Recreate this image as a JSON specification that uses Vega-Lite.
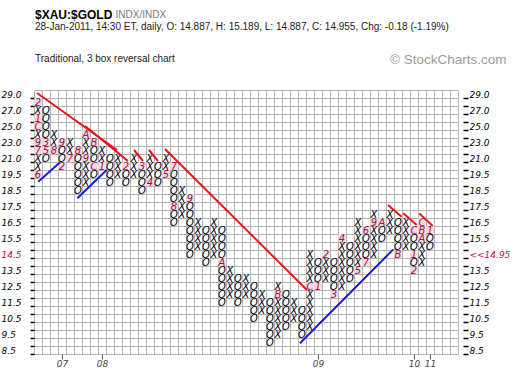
{
  "$schema": "https://vega.github.io/schema/vega-lite/v6.json",
  "width": 424,
  "height": 264,
  "autosize": {"type": "none"},
  "padding": {"left": 34, "top": 90, "right": 62, "bottom": 24},
  "background": "white",
  "config": {"view": {"stroke": null}},
  "title": {
    "text": "$XAU:$GOLD",
    "subtitle": ["28-Jan-2011, 14:30 ET, daily, O: 14.887, H: 15.189, L: 14.887, C: 14.955, Chg: -0.18 (-1.19%)", "Traditional, 3 box reversal chart"],
    "anchor": "start", "frame": "group",
    "font": "Liberation Sans", "fontSize": 12, "fontWeight": "bold", "color": "#000",
    "subtitleFont": "Liberation Sans", "subtitleFontSize": 10, "subtitleColor": "#222",
    "subtitleLineHeight": 32, "subtitlePadding": 0, "offset": -56, "dx": 1
  },
  "datasets": {
    "cells": [
      {"c":0,"p":19.5,"s":"6"},{"c":0,"p":20,"s":"X"},{"c":0,"p":21,"s":"X"},{"c":0,"p":22,"s":"7"},{"c":0,"p":23,"s":"9"},{"c":0,"p":24,"s":"X"},{"c":0,"p":25,"s":"C"},{"c":0,"p":26,"s":"1"},{"c":0,"p":27,"s":"X"},{"c":0,"p":28,"s":"2"},
      {"c":1,"p":21,"s":"O"},{"c":1,"p":22,"s":"5"},{"c":1,"p":23,"s":"3"},{"c":1,"p":24,"s":"O"},{"c":1,"p":25,"s":"O"},{"c":1,"p":26,"s":"O"},{"c":1,"p":27,"s":"O"},
      {"c":2,"p":22,"s":"8"},{"c":2,"p":23,"s":"X"},{"c":2,"p":24,"s":"X"},
      {"c":3,"p":20,"s":"2"},{"c":3,"p":21,"s":"O"},{"c":3,"p":22,"s":"O"},{"c":3,"p":23,"s":"9"},
      {"c":4,"p":21,"s":"7"},{"c":4,"p":22,"s":"X"},{"c":4,"p":23,"s":"X"},
      {"c":5,"p":18.5,"s":"O"},{"c":5,"p":19,"s":"O"},{"c":5,"p":19.5,"s":"O"},{"c":5,"p":20,"s":"O"},{"c":5,"p":21,"s":"O"},{"c":5,"p":22,"s":"8"},
      {"c":6,"p":19,"s":"X"},{"c":6,"p":19.5,"s":"X"},{"c":6,"p":20,"s":"X"},{"c":6,"p":21,"s":"9"},{"c":6,"p":22,"s":"X"},{"c":6,"p":23,"s":"X"},{"c":6,"p":24,"s":"A"},
      {"c":7,"p":19.5,"s":"O"},{"c":7,"p":20,"s":"C"},{"c":7,"p":21,"s":"O"},{"c":7,"p":22,"s":"O"},{"c":7,"p":23,"s":"B"},
      {"c":8,"p":20,"s":"1"},{"c":8,"p":21,"s":"X"},{"c":8,"p":22,"s":"X"},
      {"c":9,"p":19,"s":"O"},{"c":9,"p":19.5,"s":"O"},{"c":9,"p":20,"s":"O"},{"c":9,"p":21,"s":"O"},
      {"c":10,"p":19.5,"s":"X"},{"c":10,"p":20,"s":"X"},{"c":10,"p":21,"s":"X"},
      {"c":11,"p":19,"s":"O"},{"c":11,"p":19.5,"s":"O"},{"c":11,"p":20,"s":"2"},
      {"c":12,"p":19.5,"s":"X"},{"c":12,"p":20,"s":"X"},{"c":12,"p":21,"s":"X"},
      {"c":13,"p":18.5,"s":"O"},{"c":13,"p":19,"s":"O"},{"c":13,"p":19.5,"s":"O"},{"c":13,"p":20,"s":"3"},
      {"c":14,"p":19,"s":"4"},{"c":14,"p":19.5,"s":"X"},{"c":14,"p":20,"s":"X"},{"c":14,"p":21,"s":"X"},
      {"c":15,"p":19,"s":"O"},{"c":15,"p":19.5,"s":"O"},{"c":15,"p":20,"s":"O"},
      {"c":16,"p":19.5,"s":"5"},{"c":16,"p":20,"s":"X"},{"c":16,"p":21,"s":"X"},
      {"c":17,"p":16.5,"s":"O"},{"c":17,"p":17,"s":"O"},{"c":17,"p":17.5,"s":"8"},{"c":17,"p":18,"s":"O"},{"c":17,"p":18.5,"s":"O"},{"c":17,"p":19,"s":"O"},{"c":17,"p":19.5,"s":"O"},{"c":17,"p":20,"s":"7"},
      {"c":18,"p":17,"s":"X"},{"c":18,"p":17.5,"s":"X"},{"c":18,"p":18,"s":"X"},{"c":18,"p":18.5,"s":"X"},
      {"c":19,"p":14.5,"s":"O"},{"c":19,"p":15,"s":"O"},{"c":19,"p":15.5,"s":"O"},{"c":19,"p":16,"s":"O"},{"c":19,"p":16.5,"s":"O"},{"c":19,"p":17,"s":"O"},{"c":19,"p":17.5,"s":"O"},{"c":19,"p":18,"s":"9"},
      {"c":20,"p":15,"s":"X"},{"c":20,"p":15.5,"s":"X"},{"c":20,"p":16,"s":"X"},{"c":20,"p":16.5,"s":"X"},
      {"c":21,"p":14,"s":"O"},{"c":21,"p":14.5,"s":"O"},{"c":21,"p":15,"s":"O"},{"c":21,"p":15.5,"s":"O"},{"c":21,"p":16,"s":"O"},
      {"c":22,"p":14.5,"s":"X"},{"c":22,"p":15,"s":"X"},{"c":22,"p":15.5,"s":"X"},{"c":22,"p":16,"s":"X"},{"c":22,"p":16.5,"s":"X"},
      {"c":23,"p":11.5,"s":"O"},{"c":23,"p":12,"s":"O"},{"c":23,"p":12.5,"s":"O"},{"c":23,"p":13,"s":"O"},{"c":23,"p":13.5,"s":"O"},{"c":23,"p":14,"s":"A"},{"c":23,"p":14.5,"s":"O"},{"c":23,"p":15,"s":"O"},{"c":23,"p":15.5,"s":"O"},{"c":23,"p":16,"s":"O"},
      {"c":24,"p":12,"s":"X"},{"c":24,"p":12.5,"s":"X"},{"c":24,"p":13,"s":"X"},{"c":24,"p":13.5,"s":"X"},
      {"c":25,"p":11.5,"s":"O"},{"c":25,"p":12,"s":"O"},{"c":25,"p":12.5,"s":"O"},{"c":25,"p":13,"s":"O"},
      {"c":26,"p":12,"s":"X"},{"c":26,"p":12.5,"s":"X"},{"c":26,"p":13,"s":"X"},
      {"c":27,"p":10.5,"s":"O"},{"c":27,"p":11,"s":"O"},{"c":27,"p":11.5,"s":"O"},{"c":27,"p":12,"s":"O"},{"c":27,"p":12.5,"s":"O"},
      {"c":28,"p":11,"s":"X"},{"c":28,"p":11.5,"s":"X"},{"c":28,"p":12,"s":"X"},
      {"c":29,"p":9,"s":"O"},{"c":29,"p":9.5,"s":"O"},{"c":29,"p":10,"s":"O"},{"c":29,"p":10.5,"s":"O"},{"c":29,"p":11,"s":"O"},{"c":29,"p":11.5,"s":"O"},
      {"c":30,"p":9.5,"s":"X"},{"c":30,"p":10,"s":"X"},{"c":30,"p":10.5,"s":"X"},{"c":30,"p":11,"s":"X"},{"c":30,"p":11.5,"s":"X"},{"c":30,"p":12,"s":"B"},{"c":30,"p":12.5,"s":"X"},
      {"c":31,"p":10,"s":"O"},{"c":31,"p":10.5,"s":"O"},{"c":31,"p":11,"s":"O"},{"c":31,"p":11.5,"s":"O"},{"c":31,"p":12,"s":"O"},
      {"c":32,"p":10.5,"s":"X"},{"c":32,"p":11,"s":"X"},{"c":32,"p":11.5,"s":"X"},
      {"c":33,"p":9.5,"s":"O"},{"c":33,"p":10,"s":"O"},{"c":33,"p":10.5,"s":"O"},{"c":33,"p":11,"s":"O"},
      {"c":34,"p":10,"s":"X"},{"c":34,"p":10.5,"s":"X"},{"c":34,"p":11,"s":"X"},{"c":34,"p":11.5,"s":"X"},{"c":34,"p":12,"s":"X"},{"c":34,"p":12.5,"s":"C"},{"c":34,"p":13,"s":"X"},{"c":34,"p":13.5,"s":"X"},{"c":34,"p":14,"s":"X"},{"c":34,"p":14.5,"s":"X"},
      {"c":35,"p":12.5,"s":"1"},{"c":35,"p":13,"s":"O"},{"c":35,"p":13.5,"s":"O"},{"c":35,"p":14,"s":"O"},
      {"c":36,"p":13,"s":"X"},{"c":36,"p":13.5,"s":"X"},{"c":36,"p":14,"s":"X"},{"c":36,"p":14.5,"s":"2"},
      {"c":37,"p":12,"s":"3"},{"c":37,"p":12.5,"s":"O"},{"c":37,"p":13,"s":"O"},{"c":37,"p":13.5,"s":"O"},{"c":37,"p":14,"s":"O"},
      {"c":38,"p":12.5,"s":"X"},{"c":38,"p":13,"s":"X"},{"c":38,"p":13.5,"s":"X"},{"c":38,"p":14,"s":"X"},{"c":38,"p":14.5,"s":"X"},{"c":38,"p":15,"s":"X"},{"c":38,"p":15.5,"s":"4"},
      {"c":39,"p":13,"s":"O"},{"c":39,"p":13.5,"s":"O"},{"c":39,"p":14,"s":"O"},{"c":39,"p":14.5,"s":"O"},{"c":39,"p":15,"s":"O"},
      {"c":40,"p":13.5,"s":"5"},{"c":40,"p":14,"s":"X"},{"c":40,"p":14.5,"s":"X"},{"c":40,"p":15,"s":"X"},{"c":40,"p":15.5,"s":"X"},{"c":40,"p":16,"s":"X"},{"c":40,"p":16.5,"s":"X"},
      {"c":41,"p":14,"s":"7"},{"c":41,"p":14.5,"s":"O"},{"c":41,"p":15,"s":"O"},{"c":41,"p":15.5,"s":"O"},{"c":41,"p":16,"s":"6"},
      {"c":42,"p":14.5,"s":"X"},{"c":42,"p":15,"s":"X"},{"c":42,"p":15.5,"s":"X"},{"c":42,"p":16,"s":"X"},{"c":42,"p":16.5,"s":"9"},{"c":42,"p":17,"s":"X"},
      {"c":43,"p":15.5,"s":"O"},{"c":43,"p":16,"s":"O"},{"c":43,"p":16.5,"s":"A"},
      {"c":44,"p":16,"s":"X"},{"c":44,"p":16.5,"s":"X"},{"c":44,"p":17,"s":"X"},
      {"c":45,"p":14.5,"s":"B"},{"c":45,"p":15,"s":"O"},{"c":45,"p":15.5,"s":"O"},{"c":45,"p":16,"s":"O"},{"c":45,"p":16.5,"s":"O"},
      {"c":46,"p":15,"s":"X"},{"c":46,"p":15.5,"s":"X"},{"c":46,"p":16,"s":"X"},{"c":46,"p":16.5,"s":"X"},
      {"c":47,"p":13.5,"s":"2"},{"c":47,"p":14,"s":"O"},{"c":47,"p":14.5,"s":"1"},{"c":47,"p":15,"s":"O"},{"c":47,"p":15.5,"s":"O"},{"c":47,"p":16,"s":"C"},
      {"c":48,"p":14,"s":"X"},{"c":48,"p":14.5,"s":"X"},{"c":48,"p":15,"s":"X"},{"c":48,"p":15.5,"s":"A"},{"c":48,"p":16,"s":"B"},{"c":48,"p":16.5,"s":"C"},
      {"c":49,"p":15,"s":"O"},{"c":49,"p":15.5,"s":"O"},{"c":49,"p":16,"s":"1"}
    ],
    "lines": [
      {"x1":-0.125,"y1":29.125,"x2":9.875,"y2":22,"t":"resistance"},
      {"x1":5.875,"y1":25,"x2":11.25,"y2":20.625,"t":"resistance"},
      {"x1":12,"y1":22,"x2":13.125,"y2":20.625,"t":"resistance"},
      {"x1":13.875,"y1":22,"x2":15,"y2":20.625,"t":"resistance"},
      {"x1":15.875,"y1":22.125,"x2":33.625,"y2":12.25,"t":"resistance"},
      {"x1":43.75,"y1":17.56,"x2":45.46,"y2":16.83,"t":"resistance"},
      {"x1":45.66,"y1":17.04,"x2":47.34,"y2":16.31,"t":"resistance"},
      {"x1":47.66,"y1":17.04,"x2":49.34,"y2":16.25,"t":"resistance"},
      {"x1":0.04,"y1":19.02,"x2":2.75,"y2":20.46,"t":"support"},
      {"x1":4.91,"y1":17.98,"x2":8.59,"y2":19.75,"t":"support"},
      {"x1":32.75,"y1":8.92,"x2":44.41,"y2":14.79,"t":"support"}
    ]
  },
  "layer": [
    {
      "data": {"name": "cells"},
      "transform": [{"filter": "datum.s != 'X' && datum.s != 'O'"}],
      "mark": {"type": "square", "size": 58, "color": "#f3dde5", "opacity": 1},
      "encoding": {
        "x": {"field": "c", "type": "quantitative",
          "scale": {"domain": [-0.5, 52.5], "nice": false, "zero": false},
          "axis": {"orient": "bottom", "values": [3, 8, 35, 47, 49],
            "labelExpr": "datum.value == 3 ? '07' : datum.value == 8 ? '08' : datum.value == 35 ? '09' : datum.value == 47 ? '10' : '11'",
            "grid": false, "domain": false, "ticks": true, "tickSize": 5, "tickColor": "#666",
            "labelFont": "DejaVu Sans", "labelFontStyle": "italic", "labelFontSize": 9, "labelColor": "#444", "labelPadding": 0, "title": null}},
        "y": {"field": "p", "type": "quantitative",
          "scale": {"domain": [8.25, 20, 29.5], "range": [264, 76, 0], "nice": false, "zero": false},
          "axis": {"orient": "left",
            "values": [29,28,27,26,25,24,23,22,21,20,19.5,19,18.5,18,17.5,17,16.5,16,15.5,15,14.5,14,13.5,13,12.5,12,11.5,11,10.5,10,9.5,9,8.5],
            "labelExpr": "format(datum.value, '.1f')",
            "grid": true, "gridColor": "#b4b4b4", "gridWidth": 1,
            "tickOffset": 4, "labelOffset": -4,
            "domain": false, "ticks": true, "tickSize": 4, "tickColor": "#000", "tickWidth": 1.5,
            "labelFont": "DejaVu Sans", "labelFontStyle": "italic", "labelFontSize": 9, "labelPadding": 29, "labelAlign": "left",
            "labelColor": {"condition": {"test": "datum.value == 14.5", "value": "#c0104a"}, "value": "#000"},
            "title": "© StockCharts.com", "titleAngle": 0, "titleX": 472, "titleY": -27, "titleAlign": "right", "titleBaseline": "alphabetic",
            "titleFont": "Liberation Sans", "titleFontSize": 13.5, "titleFontWeight": "normal", "titleColor": "#9a9a9a"}}
      }
    },
    {
      "data": {"name": "cells"},
      "mark": {"type": "text", "font": "DejaVu Sans", "fontStyle": "italic", "fontSize": 10, "align": "center", "baseline": "middle", "dy": 0.5},
      "encoding": {
        "x": {"field": "c", "type": "quantitative",
          "scale": {"domain": [-0.5, 52.5], "nice": false, "zero": false},
          "axis": {"orient": "top",
            "values": [-0.5,0.5,1.5,2.5,3.5,4.5,5.5,6.5,7.5,8.5,9.5,10.5,11.5,12.5,13.5,14.5,15.5,16.5,17.5,18.5,19.5,20.5,21.5,22.5,23.5,24.5,25.5,26.5,27.5,28.5,29.5,30.5,31.5,32.5,33.5,34.5,35.5,36.5,37.5,38.5,39.5,40.5,41.5,42.5,43.5,44.5,45.5,46.5,47.5,48.5,49.5,50.5,51.5,52.5],
            "grid": true, "gridColor": "#b4b4b4", "gridWidth": 1, "labels": false, "ticks": false, "domain": true, "domainColor": "#b4b4b4", "domainWidth": 1,
            "title": null}},
        "y": {"field": "p", "type": "quantitative",
          "scale": {"domain": [8.25, 20, 29.5], "range": [264, 76, 0], "nice": false, "zero": false},
          "axis": {"orient": "right", "offset": 5,
            "values": [29,28,27,26,25,24,23,22,21,20,19.5,19,18.5,18,17.5,17,16.5,16,15.5,15,14.5,14,13.5,13,12.5,12,11.5,11,10.5,10,9.5,9,8.5],
            "labelExpr": "datum.value == 14.5 ? '<<14.95' : format(datum.value, '.1f')",
            "grid": false, "domain": false, "ticks": true, "tickSize": 5, "tickColor": "#000", "tickWidth": 1.5,
            "tickOffset": 4, "labelOffset": -4,
            "labelFont": "DejaVu Sans", "labelFontStyle": "italic", "labelFontSize": 9, "labelPadding": 1,
            "labelColor": {"condition": {"test": "datum.value == 14.5", "value": "#c0104a"}, "value": "#000"},
            "title": "INDX/INDX", "titleAngle": 0, "titleX": -348, "titleY": -73, "titleAlign": "left", "titleBaseline": "alphabetic",
            "titleFont": "Liberation Sans", "titleFontSize": 10, "titleFontWeight": "normal", "titleColor": "#777"}},
        "text": {"field": "s"},
        "color": {"condition": {"test": "datum.s == 'X' || datum.s == 'O'", "value": "#000"}, "value": "#a8103e"}
      }
    },
    {
      "data": {"name": "lines"},
      "mark": {"type": "rule", "strokeWidth": 2, "strokeCap": "butt"},
      "encoding": {
        "x": {"field": "x1", "type": "quantitative", "scale": {"domain": [-0.5, 52.5], "nice": false, "zero": false}, "axis": null},
        "x2": {"field": "x2"},
        "y": {"field": "y1", "type": "quantitative", "scale": {"domain": [8.25, 20, 29.5], "range": [264, 76, 0], "nice": false, "zero": false}, "axis": null},
        "y2": {"field": "y2"},
        "color": {"field": "t", "type": "nominal", "scale": {"domain": ["resistance", "support"], "range": ["#e8141c", "#1a1ad8"]}, "legend": null}
      }
    }
  ],
  "resolve": {"axis": {"x": "independent", "y": "independent"}}
}
